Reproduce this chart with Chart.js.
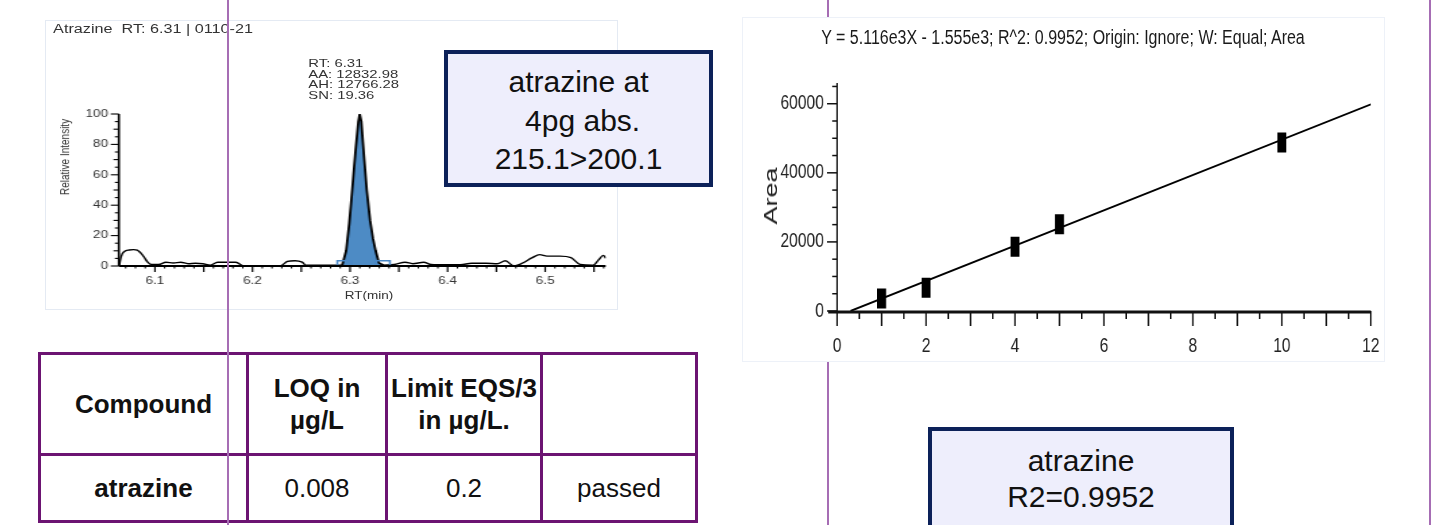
<!DOCTYPE html>
<html><head><meta charset="utf-8">
<script src="https://cdn.jsdelivr.net/npm/chart.js@4/dist/chart.umd.min.js"></script>
<style>
html,body{margin:0;padding:0;background:#fff;}
body{width:1450px;height:525px;position:relative;overflow:hidden;font-family:'Liberation Sans',Arial,sans-serif;}
.abs{position:absolute;}
#chromPanel{left:45px;top:20px;width:573px;height:290px;border:1px solid #e4eaf3;box-sizing:border-box;background:#fff;}
#chromWrap{left:45px;top:20px;width:424.4px;height:290px;transform:scaleX(1.35);transform-origin:0 0;}
#chromBox{left:0;top:0;width:424.4px;height:290px;}
.ctext{position:absolute;color:#333;font-family:'Liberation Sans',Arial,sans-serif;white-space:nowrap;}
#calPanel{left:742px;top:17px;width:643px;height:345px;border:1.5px solid #edf1f8;box-sizing:border-box;background:#fff;z-index:2;}
#calBox{left:742px;top:17px;width:894.9px;height:345px;transform:scaleX(0.78);transform-origin:0 0;z-index:3;}
.vline{position:absolute;width:2px;background:#a66db4;}
.tbox{position:absolute;box-sizing:border-box;border:4px solid #0c2159;background:#eeeefc;text-align:center;color:#111;font-size:30px;font-family:'Liberation Sans',Arial,sans-serif;z-index:4;}
table{position:absolute;left:38px;top:352px;border-collapse:collapse;font-family:'Liberation Sans',Arial,sans-serif;font-size:26px;color:#111;}
td{border:3px solid #6c1472;text-align:center;padding:0;line-height:32px;}
</style>
</head><body>

<div class="vline" style="left:827px;top:0;height:525px;z-index:1;"></div>
<div class="vline" style="left:1429px;top:0;height:525px;z-index:1;"></div>

<div id="chromPanel" class="abs"></div>
<div id="chromWrap" class="abs">
  <div id="chromBox" class="abs"><canvas id="chrom"></canvas></div>
  <div class="ctext" style="left:6px;top:2px;font-size:12px;line-height:14px;">Atrazine&nbsp; RT: 6.31 | 0110-21</div>
  <div class="ctext" style="left:195px;top:38px;font-size:11px;line-height:10.5px;">RT: 6.31<br>AA: 12832.98<br>AH: 12766.28<br>SN: 19.36</div>
  <div class="ctext" style="left:14.8px;top:137px;font-size:10px;line-height:12px;transform:translate(-50%,-50%) rotate(-90deg);">Relative Intensity</div>
  <div class="ctext" style="left:240px;top:276px;font-size:10px;line-height:12px;transform:translate(-50%,-50%);">RT(min)</div>
</div>

<div class="tbox" style="left:444px;top:50px;width:269px;height:137px;padding-top:9px;line-height:38.5px;">atrazine at<br>&nbsp;4pg abs.<br>215.1&gt;200.1</div>

<div id="calPanel" class="abs"></div>
<div id="calBox" class="abs"><canvas id="cal"></canvas></div>
<div class="abs" style="left:1063px;top:37px;transform:translate(-50%,-50%) scaleX(0.78);font-size:20.5px;color:#1a1a1a;white-space:nowrap;z-index:5;">Y = 5.116e3X - 1.555e3; R^2: 0.9952; Origin: Ignore; W: Equal; Area</div>
<div class="abs" style="left:771px;top:196px;transform:translate(-50%,-50%) rotate(-90deg) scaleX(1.5);font-size:18px;line-height:18px;color:#222;white-space:nowrap;z-index:5;">Area</div>

<table>
<tr style="height:101px;"><td style="width:205px;font-weight:bold;">Compound</td><td style="width:136px;font-weight:bold;">LOQ in<br>µg/L</td><td style="width:152px;font-weight:bold;">Limit EQS/3<br>in µg/L.</td><td style="width:152px;"></td></tr>
<tr style="height:67px;"><td style="font-weight:bold;">atrazine</td><td>0.008</td><td>0.2</td><td>passed</td></tr>
</table>

<div class="tbox" style="left:928px;top:427px;width:306px;height:110px;padding-top:12px;line-height:36px;">atrazine<br>R2=0.9952</div>

<div class="vline" style="left:227px;top:0;height:525px;z-index:10;"></div>

<script>
// ---------- Chromatogram data (RT in min, relative intensity %) ----------
const rtBefore = [6.0634,6.0645,6.0665,6.07,6.0736,6.078,6.0819,6.0855,6.0887,6.0925,6.0962,6.1038,6.1113,6.1189,6.1264,6.134,6.1415,6.1491,6.1566,6.1642,6.1717,6.183,6.1906,6.2283,6.2358,6.2434,6.2509,6.2547,6.2919];
const intBefore = [0,4,8,10,10.5,10.8,10.5,8.5,6,2.5,1,1,2.5,2,2.5,1.5,1.8,1.5,0.5,2.5,2.5,2.5,0,0,3,3.5,2.5,0.5,0.5];
const peakRt = [6.2919,6.296,6.2992,6.3022,6.3055,6.3085,6.3099,6.3115,6.3143,6.3171,6.3205,6.3235,6.3262,6.3296,6.3345];
const peakInt = [0.5,10,28,50,75,95,100,95,72,50,30,18,10,2,0.5];
const rtAfter = [6.3345,6.3453,6.3566,6.3642,6.3755,6.383,6.3981,6.4132,6.4245,6.4396,6.4509,6.4592,6.4679,6.4755,6.4868,6.4943,6.5019,6.5151,6.5264,6.5358,6.5491,6.5547,6.5596,6.5623];
const intAfter = [0.5,1,2.5,1.5,2.5,1,0.8,0.8,1.8,1.8,1.5,3.5,0,1.5,5.5,7.5,6.5,6.5,5.5,1,0.5,4,7,5];
const peakMarkRt = [6.2943,6.3335];
const peakMarkInt = [0,0];
const chromXTicks = [6.1,6.2,6.3,6.4,6.5];
const chromXLabels = ['6.1','6.2','6.3','6.4','6.5'];
const chromYTicks = [0,20,40,60,80,100];
const chromYLabels = ['0','20','40','60','80','100'];

// ---------- Calibration data ----------
const calConc = [1,2,4,5,10];
const calArea = [3600,6700,18600,25100,48800];
const fitConc = [0.3,12];
const fitArea = [0,59800];
const calXTicks = [0,2,4,6,8,10,12];
const calXLabels = ['0','2','4','6','8','10','12'];
const calYTicks = [0,20000,40000,60000];
const calYLabels = ['0','20000','40000','60000'];

const pts = (xs, ys) => xs.map((x,i)=>({x:x, y:ys[i]}));

const chromAxes = {
  id:'chromAxes',
  afterDatasetsDraw(chart){
    const {ctx, scales:{x, y}} = chart;
    ctx.save();
    ctx.strokeStyle = '#000';
    const x0 = x.left, yb = y.getPixelForValue(0);
    ctx.lineWidth = 1.6;
    ctx.beginPath(); ctx.moveTo(x0, y.getPixelForValue(100)); ctx.lineTo(x0, yb); ctx.stroke();
    ctx.lineWidth = 1.8;
    ctx.beginPath(); ctx.moveTo(x0, yb); ctx.lineTo(x.right, yb); ctx.stroke();
    ctx.lineWidth = 1.1;
    for (let k = 0; k <= 20; k++) {
      const py = y.getPixelForValue(k*5);
      const len = (k % 4 === 0) ? 6 : (k % 2 === 0 ? 4 : 3);
      ctx.beginPath(); ctx.moveTo(x0 - len, py); ctx.lineTo(x0, py); ctx.stroke();
    }
    for (let k = Math.ceil(x.min*100); k <= Math.floor(x.max*100); k++) {
      const px = x.getPixelForValue(k/100);
      const len = (k % 5 === 0) ? 6 : 2.5;
      ctx.lineWidth = (k % 5 === 0) ? 1.2 : 1;
      ctx.beginPath(); ctx.moveTo(px, yb); ctx.lineTo(px, yb + len); ctx.stroke();
    }
    ctx.restore();
  }
};

const traceStyle = {showLine:true, fill:false, borderColor:'#000', borderWidth:1.4, pointRadius:0, cubicInterpolationMode:'monotone', order:2};
new Chart(document.getElementById('chrom'), {
  type:'scatter',
  data:{datasets:[
    {data:pts(peakMarkRt, peakMarkInt), pointStyle:'rect', pointRadius:7.5, borderColor:'#4a88c6', backgroundColor:'rgba(0,0,0,0)', borderWidth:1.6, showLine:false, order:0},
    {data:pts(peakRt, peakInt), showLine:true, fill:'origin', backgroundColor:'#4d8bc5', borderColor:'#000', borderWidth:1.8, pointRadius:0, tension:0, order:1},
    Object.assign({data:pts(rtBefore, intBefore)}, traceStyle),
    Object.assign({data:pts(rtAfter, intAfter)}, traceStyle)
  ]},
  options:{
    responsive:true, maintainAspectRatio:false, animation:false, devicePixelRatio:1, events:[],
    layout:{padding:{top:94, right:7.4, left:0, bottom:0}},
    plugins:{legend:{display:false}, tooltip:{enabled:false}},
    scales:{
      x:{type:'linear', min:6.063, max:6.562,
         grid:{display:false, drawTicks:false}, border:{display:false},
         afterBuildTicks:s=>{s.ticks = chromXTicks.map(v=>({value:v}));},
         afterFit:s=>{s.height = 44;},
         ticks:{autoSkip:false, maxRotation:0, padding:9, color:'#333', font:{size:10, family:'Liberation Sans'}, callback:(v,i)=>chromXLabels[i]}},
      y:{type:'linear', min:0, max:100,
         grid:{display:false, drawTicks:false}, border:{display:false},
         afterBuildTicks:s=>{s.ticks = chromYTicks.map(v=>({value:v}));},
         afterFit:s=>{s.width = 54.7;},
         ticks:{autoSkip:false, padding:8, color:'#333', font:{size:10, family:'Liberation Sans'}, callback:(v,i)=>chromYLabels[i]}}
    }
  },
  plugins:[chromAxes]
});

// calibration canvas is squeezed horizontally by 0.78 (CSS), so horizontal sizes are divided by 0.78
const calAxes = {
  id:'calAxes',
  afterDatasetsDraw(chart){
    const {ctx, scales:{x, y}} = chart;
    ctx.save();
    ctx.strokeStyle = '#111';
    const x0 = x.getPixelForValue(0), y0 = y.getPixelForValue(0);
    ctx.lineWidth = 2;
    ctx.beginPath(); ctx.moveTo(x0, y.top); ctx.lineTo(x0, y0 + 15); ctx.stroke();
    ctx.lineWidth = 1.5;
    for (let k = 0; k <= 13; k++) {
      const py = y.getPixelForValue(k*5000);
      const len = (k % 4 === 0) ? 12.8 : 6.4;
      ctx.beginPath(); ctx.moveTo(x0 - len, py); ctx.lineTo(x0, py); ctx.stroke();
    }
    ctx.lineWidth = 2;
    for (let k = 1; k <= 24; k++) {
      const px = x.getPixelForValue(k*0.5);
      const len = (k % 2 === 0) ? 15 : 8;
      ctx.beginPath(); ctx.moveTo(px, y0); ctx.lineTo(px, y0 + len); ctx.stroke();
    }
    ctx.lineWidth = 3;
    ctx.beginPath(); ctx.moveTo(x0 - 11.5, y0 + 1); ctx.lineTo(x.right, y0 + 1); ctx.stroke();
    ctx.restore();
  }
};

new Chart(document.getElementById('cal'), {
  type:'scatter',
  data:{datasets:[
    {data:pts(calConc, calArea), pointStyle:'line', rotation:90, pointRadius:10, borderWidth:11.5, borderColor:'#000', backgroundColor:'#000', showLine:false, order:0},
    {data:pts(fitConc, fitArea), showLine:true, borderColor:'#000', borderWidth:2, pointRadius:0, fill:false, order:1}
  ]},
  options:{
    responsive:true, maintainAspectRatio:false, animation:false, devicePixelRatio:1, events:[],
    layout:{padding:{top:66, right:89.7, left:0, bottom:0}},
    plugins:{legend:{display:false}, tooltip:{enabled:false}},
    scales:{
      x:{type:'linear', min:0, max:12,
         grid:{display:false, drawTicks:false}, border:{display:false},
         afterBuildTicks:s=>{s.ticks = calXTicks.map(v=>({value:v}));},
         afterFit:s=>{s.height = 51;},
         ticks:{autoSkip:false, maxRotation:0, padding:23, color:'#222', font:{size:20, family:'Liberation Sans'}, callback:(v,i)=>calXLabels[i]}},
      y:{type:'linear', min:0, max:66000,
         grid:{display:false, drawTicks:false}, border:{display:false},
         afterBuildTicks:s=>{s.ticks = calYTicks.map(v=>({value:v}));},
         afterFit:s=>{s.width = 121.8;},
         ticks:{autoSkip:false, padding:17, color:'#222', font:{size:20, family:'Liberation Sans'}, callback:(v,i)=>calYLabels[i]}}
    }
  },
  plugins:[calAxes]
});
</script>
</body></html>
